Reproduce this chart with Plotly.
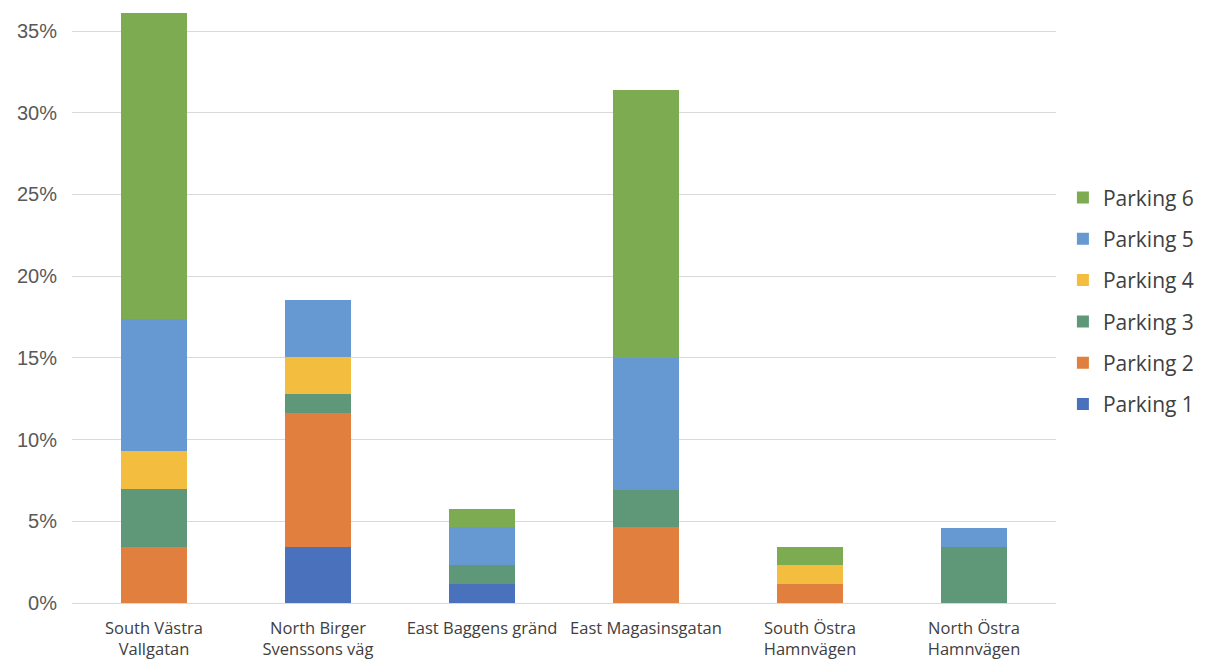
import plotly.graph_objects as go

categories = ["South Västra<br>Vallgatan", "North Birger<br>Svenssons väg", "East Baggens gränd",
              "East Magasinsgatan", "South Östra<br>Hamnvägen", "North Östra<br>Hamnvägen"]
series_names = ["Parking 1", "Parking 2", "Parking 3", "Parking 4", "Parking 5", "Parking 6"]
parking1 = [0.0, 3.45, 1.15, 0.0, 0.0, 0.0]
parking2 = [3.45, 8.15, 0.0, 4.65, 1.15, 0.0]
parking3 = [3.5, 1.2, 1.15, 2.25, 0.0, 3.45]
parking4 = [2.35, 2.25, 0.0, 0.0, 1.15, 0.0]
parking5 = [8.1, 3.5, 2.35, 8.1, 0.0, 1.15]
parking6 = [18.7, 0.0, 1.1, 16.4, 1.15, 0.0]
colors = ["#4A72BC", "#E07F3E", "#5F9779", "#F3BD3F", "#6699D1", "#7DAB52"]
tick_vals = [0, 5, 10, 15, 20, 25, 30, 35]
tick_text = ["0%", "5%", "10%", "15%", "20%", "25%", "30%", "35%"]

all_series = [parking1, parking2, parking3, parking4, parking5, parking6]

fig = go.Figure()
n = len(series_names)
for i, (name, vals, col) in enumerate(zip(series_names, all_series, colors)):
    fig.add_trace(go.Bar(
        x=categories, y=vals, name=name, marker=dict(color=col, line=dict(width=0)),
        legendgroup=name, legendrank=n - i,
    ))

fig.update_layout(
    barmode="stack",
    bargap=0.6,
    width=1205, height=662,
    margin=dict(l=72, r=148, t=7, b=59),
    paper_bgcolor="white", plot_bgcolor="white",
    font=dict(family="Liberation Sans, Arial, sans-serif", color="#595959"),
    legend=dict(
        traceorder="grouped", tracegroupgap=11,
        x=1.006, xanchor="left", y=0.507, yanchor="middle",
        font=dict(family="Open Sans, sans-serif", size=21, color="#404040"),
        itemwidth=30,
    ),
    xaxis=dict(
        showgrid=False, showline=False, ticks="", ticklabelstandoff=13, automargin=False,
        tickfont=dict(family="Open Sans, sans-serif", size=16.5, color="#404040"),
    ),
    yaxis=dict(
        range=[0, 36.47], tickvals=tick_vals, ticktext=tick_text, automargin=False,
        showgrid=True, gridcolor="#d9d9d9", gridwidth=1,
        zeroline=True, zerolinecolor="#d9d9d9", zerolinewidth=1,
        showline=False, ticks="", ticklabelstandoff=14,
        tickfont=dict(family="Liberation Sans, Arial, sans-serif", size=20, color="#595959"),
    ),
)

fig.write_html("out.html", config={"displayModeBar": False},
               post_script="document.body.style.margin='0';")
